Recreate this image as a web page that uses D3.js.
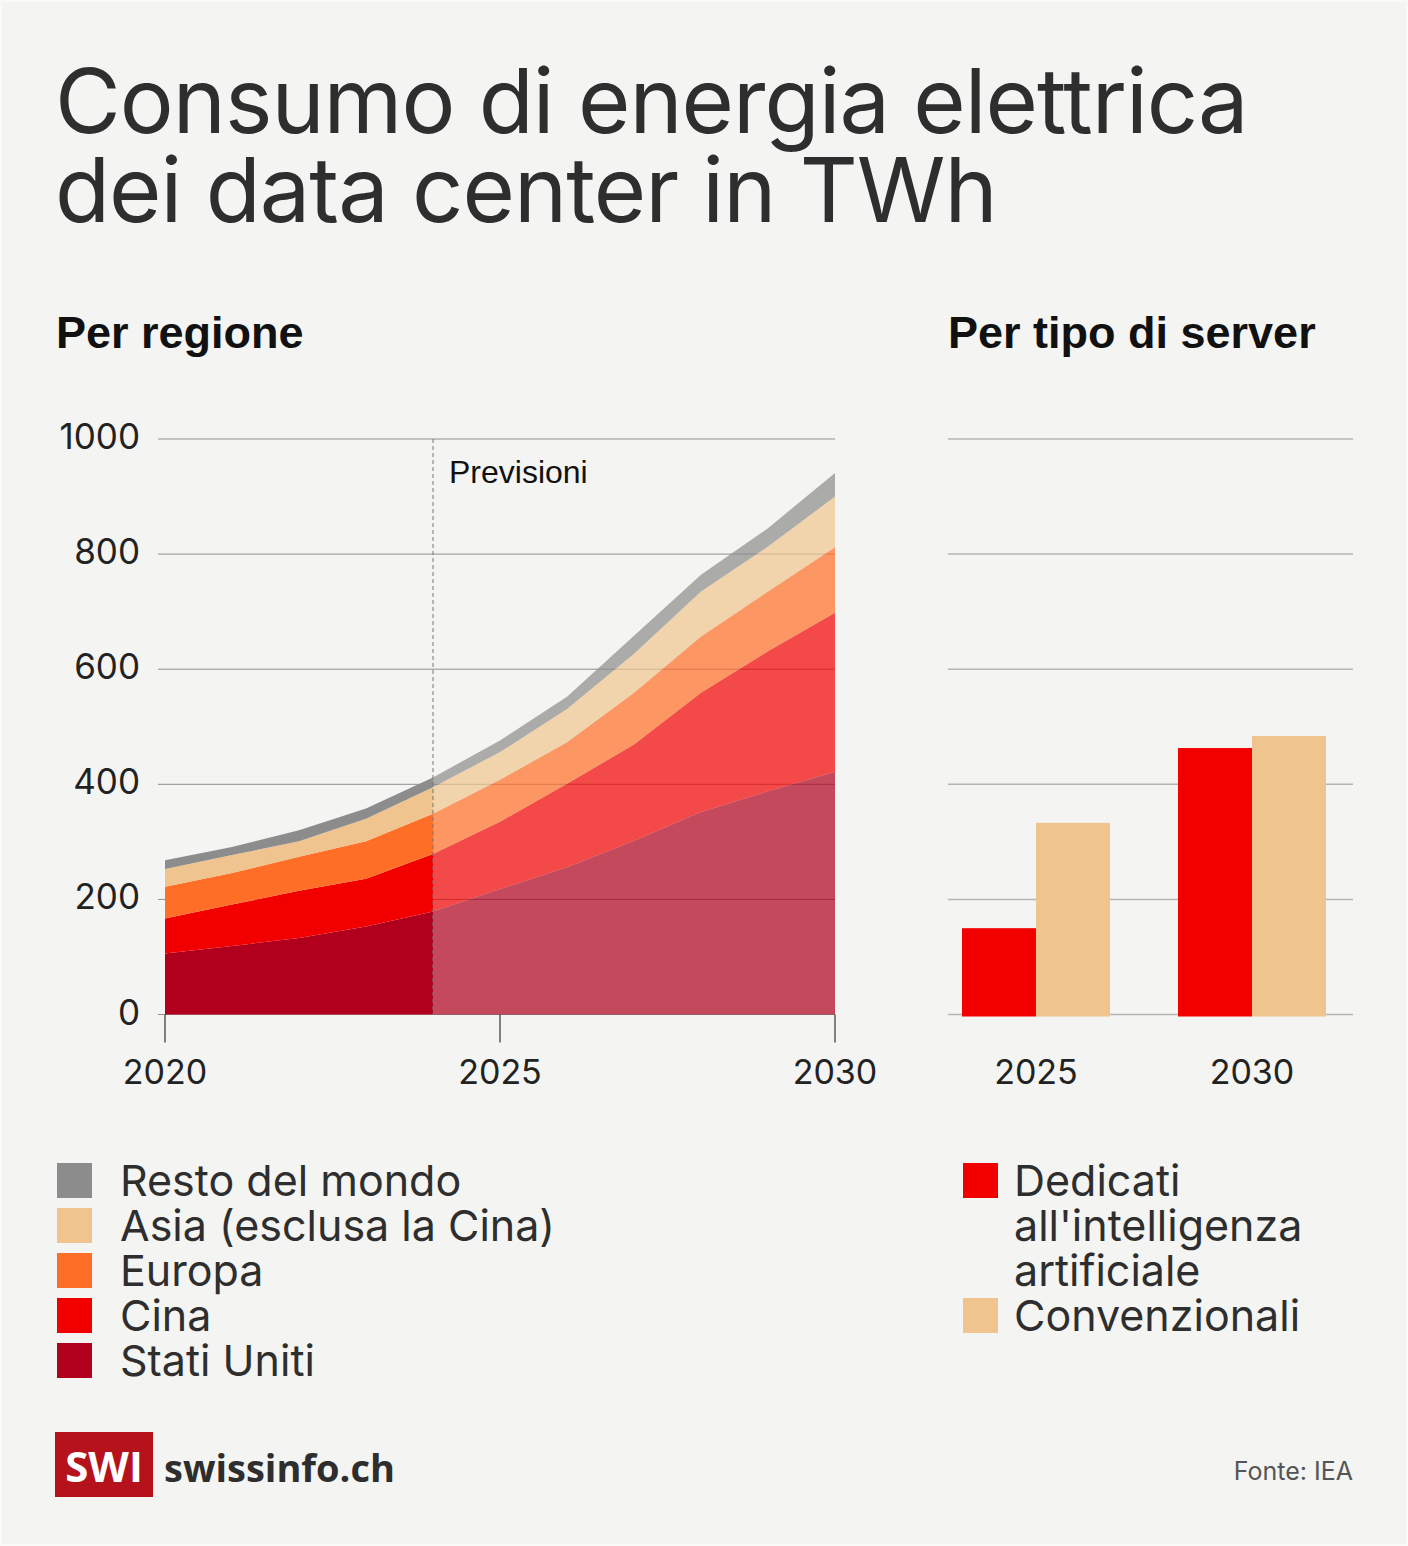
<!DOCTYPE html>
<html>
<head>
<meta charset="utf-8">
<script src="https://cdn.jsdelivr.net/npm/d3@7"></script>
<style>
  html, body { margin: 0; padding: 0; background: #f4f4f2; }
  svg { display: block; }
  .title { font-family: Inter, "Noto Sans", sans-serif; font-size: 90px; fill: #2e2e2e; letter-spacing: -1px; }
  .section { font-family: "Liberation Sans", Arial, sans-serif; font-weight: bold; font-size: 45px; fill: #111; }
  .tick-label { font-family: Inter, "Noto Sans", sans-serif; font-size: 34px; fill: #222; }
  .y-label { font-size: 35px; }
  .legend-label { font-family: Inter, "Noto Sans", sans-serif; font-size: 43px; fill: #2e2e2e; }
  .note { font-family: "Liberation Sans", Arial, sans-serif; font-size: 32px; fill: #111; }
  .grid { stroke: #8f8f8f; stroke-width: 1; }
  .bar-grid { stroke: #b4b4b4; stroke-width: 1.5; }
</style>
</head>
<body>
<div id="chart"></div>
<script>
    // data
    var years = [2020, 2021, 2022, 2023, 2024, 2025, 2026, 2027, 2028, 2029, 2030];
    var regions = ["Stati Uniti", "Cina", "Europa", "Asia (esclusa la Cina)", "Resto del mondo"];
    var usValues     = [106, 119, 133, 153, 179, 218, 256, 302, 352, 388, 422];
    var chinaValues  = [61, 72, 82, 83, 100, 117, 145, 167, 207, 243, 276];
    var europeValues = [55, 55, 59, 65, 70, 73, 72, 90, 98, 104, 114];
    var asiaValues   = [31, 31, 27, 39, 46, 48, 58, 68, 78, 78, 88];
    var restValues   = [15, 14, 19, 18, 17, 20, 21, 31, 29, 32, 41];
    var regionColors = ["#b0001e", "#f20000", "#ff6e26", "#f0c48e", "#8c8c8c"];
    var forecastStart = 2024;

    var serverYears = ["2025", "2030"];
    var serverTypes = ["ai", "conv"];
    var serverLabels = [["Dedicati", "all'intelligenza", "artificiale"], ["Convenzionali"]];
    var aiValues   = [150, 463];
    var convValues = [333, 484];
    var serverColors = ["#f20000", "#efc48e"];

    var yTicks = [0, 200, 400, 600, 800, 1000];
    var xTicks = [2020, 2025, 2030];

    var width = 1408;
    var height = 1546;

    var svg = d3.select("#chart").append("svg")
        .attr("width", width)
        .attr("height", height);

    svg.append("rect")
        .attr("x", 1).attr("y", 1)
        .attr("width", width - 2).attr("height", height - 2)
        .attr("fill", "#f4f4f2")
        .attr("stroke", "#fafaf9")
        .attr("stroke-width", 2);

    // title
    svg.append("text").attr("class", "title").attr("x", 55).attr("y", 133)
        .text("Consumo di energia elettrica");
    svg.append("text").attr("class", "title").attr("x", 55).attr("y", 222)
        .text("dei data center in TWh");

    svg.append("text").attr("class", "section").attr("x", 56).attr("y", 348).text("Per regione");
    svg.append("text").attr("class", "section").attr("x", 948).attr("y", 348).text("Per tipo di server");

    var x = d3.scaleLinear().domain([2020, 2030]).range([165, 835]);
    var y = d3.scaleLinear().domain([0, 1000]).range([1014.5, 439]);

    // left panel gridlines
    svg.append("g").selectAll("line")
        .data(yTicks).enter()
        .append("line")
        .attr("class", "grid")
        .attr("x1", 158)
        .attr("x2", x(2030))
        .attr("y1", function(d) { return y(d); })
        .attr("y2", function(d) { return y(d); });

    svg.append("g").selectAll("text")
        .data(yTicks).enter()
        .append("text")
        .attr("class", "tick-label y-label")
        .attr("text-anchor", "end")
        .attr("x", 140)
        .attr("y", function(d) { return y(d) + 10; })
        .text(function(d) { return d; });

    // stacked areas
    var rows = years.map(function(yr, i) {
        return {
            year: yr,
            "Stati Uniti": usValues[i],
            "Cina": chinaValues[i],
            "Europa": europeValues[i],
            "Asia (esclusa la Cina)": asiaValues[i],
            "Resto del mondo": restValues[i]
        };
    });
    var series = d3.stack().keys(regions)(rows);

    var area = d3.area()
        .x(function(d) { return x(d.data.year); })
        .y0(function(d) { return y(d[0]); })
        .y1(function(d) { return y(d[1]); });

    var defs = svg.append("defs");
    defs.append("clipPath").attr("id", "clip-hist")
        .append("rect")
        .attr("x", x(2020) - 1).attr("y", 0)
        .attr("width", x(forecastStart) - x(2020) + 1).attr("height", height);
    defs.append("clipPath").attr("id", "clip-fc")
        .append("rect")
        .attr("x", x(forecastStart)).attr("y", 0)
        .attr("width", x(2030) - x(forecastStart) + 1).attr("height", height);

    svg.append("g").attr("clip-path", "url(#clip-hist)")
        .selectAll("path")
        .data(series).enter()
        .append("path")
        .attr("d", area)
        .attr("fill", function(d, i) { return regionColors[i]; });

    svg.append("g").attr("clip-path", "url(#clip-fc)")
        .selectAll("path")
        .data(series).enter()
        .append("path")
        .attr("d", area)
        .attr("fill", function(d, i) { return regionColors[i]; })
        .attr("fill-opacity", 0.7);

    // forecast marker
    svg.append("line")
        .attr("x1", x(forecastStart)).attr("x2", x(forecastStart))
        .attr("y1", y(1000)).attr("y2", y(0))
        .attr("stroke", "#777")
        .attr("stroke-width", 1)
        .attr("stroke-dasharray", "4,3");
    svg.append("text").attr("class", "note")
        .attr("x", x(forecastStart) + 16).attr("y", 483)
        .text("Previsioni");

    // x axis
    svg.append("g").selectAll("line")
        .data(xTicks).enter()
        .append("line")
        .attr("x1", function(d) { return x(d); })
        .attr("x2", function(d) { return x(d); })
        .attr("y1", y(0))
        .attr("y2", y(0) + 28)
        .attr("stroke", "#333")
        .attr("stroke-width", 1.2);
    svg.append("g").selectAll("text")
        .data(xTicks).enter()
        .append("text")
        .attr("class", "tick-label")
        .attr("text-anchor", "middle")
        .attr("x", function(d) { return x(d); })
        .attr("y", 1084)
        .text(function(d) { return d; });

    // right panel: bars by server type
    svg.append("g").selectAll("line")
        .data(yTicks).enter()
        .append("line")
        .attr("class", "bar-grid")
        .attr("x1", 948)
        .attr("x2", 1353)
        .attr("y1", function(d) { return y(d); })
        .attr("y2", function(d) { return y(d); });

    var xb = d3.scaleBand().domain(serverYears).range([962, 1326]).paddingInner(0.315).paddingOuter(0);
    var xs = d3.scaleBand().domain(serverTypes).range([0, xb.bandwidth()]);
    var barData = serverYears.map(function(yr, i) {
        return [{ year: yr, type: "ai", value: aiValues[i] }, { year: yr, type: "conv", value: convValues[i] }];
    });

    svg.append("g").selectAll("g")
        .data(barData).enter()
        .append("g")
        .attr("transform", function(d) { return "translate(" + xb(d[0].year) + ",0)"; })
        .selectAll("rect")
        .data(function(d) { return d; }).enter()
        .append("rect")
        .attr("x", function(d) { return xs(d.type); })
        .attr("width", xs.bandwidth())
        .attr("y", function(d) { return y(d.value); })
        .attr("height", function(d) { return y(0) - y(d.value) + 2; })
        .attr("fill", function(d) { return serverColors[serverTypes.indexOf(d.type)]; });

    svg.append("g").selectAll("text")
        .data(serverYears).enter()
        .append("text")
        .attr("class", "tick-label")
        .attr("text-anchor", "middle")
        .attr("x", function(d) { return xb(d) + xb.bandwidth() / 2; })
        .attr("y", 1084)
        .text(function(d) { return d; });

    // legend: regions, top layer first
    var legendLeft = svg.append("g").attr("transform", "translate(57,1163)");
    var legendItems = legendLeft.selectAll("g")
        .data(regions.slice().reverse()).enter()
        .append("g")
        .attr("transform", function(d, i) { return "translate(0," + (i * 45) + ")"; });
    legendItems.append("rect")
        .attr("width", 35).attr("height", 35)
        .attr("fill", function(d) { return regionColors[regions.indexOf(d)]; });
    legendItems.append("text")
        .attr("class", "legend-label")
        .attr("x", 63).attr("y", 33)
        .text(function(d) { return d; });

    // legend: server types
    var legendRight = svg.append("g").attr("transform", "translate(963,1163)");
    var rightOffsets = [0, 135];
    var rItems = legendRight.selectAll("g")
        .data(serverTypes).enter()
        .append("g")
        .attr("transform", function(d, i) { return "translate(0," + rightOffsets[i] + ")"; });
    rItems.append("rect")
        .attr("width", 35).attr("height", 35)
        .attr("fill", function(d, i) { return serverColors[i]; });
    rItems.append("text")
        .attr("class", "legend-label")
        .attr("x", 51).attr("y", 33)
        .selectAll("tspan")
        .data(function(d, i) { return serverLabels[i]; }).enter()
        .append("tspan")
        .attr("x", 51)
        .attr("dy", function(d, i) { return i === 0 ? 0 : 45; })
        .text(function(d) { return d; });

    // footer
    svg.append("rect")
        .attr("x", 55).attr("y", 1432)
        .attr("width", 98).attr("height", 65)
        .attr("fill", "#b5121b");
    svg.append("text")
        .attr("x", 104).attr("y", 1482)
        .attr("text-anchor", "middle")
        .style("font-family", "'Open Sans', 'Noto Sans', sans-serif")
        .style("font-weight", "bold")
        .style("font-size", "42px")
        .style("fill", "#fff")
        .text("SWI");
    svg.append("text")
        .attr("x", 164).attr("y", 1482)
        .style("font-family", "'Open Sans', 'Noto Sans', sans-serif")
        .style("font-weight", "bold")
        .style("font-size", "38px")
        .style("fill", "#2e2e2e")
        .text("swissinfo.ch");

    svg.append("text")
        .attr("x", 1353).attr("y", 1480)
        .attr("text-anchor", "end")
        .style("font-family", "Inter, 'Noto Sans', sans-serif")
        .style("font-size", "25px")
        .style("fill", "#555")
        .text("Fonte: IEA");
</script>
</body>
</html>
